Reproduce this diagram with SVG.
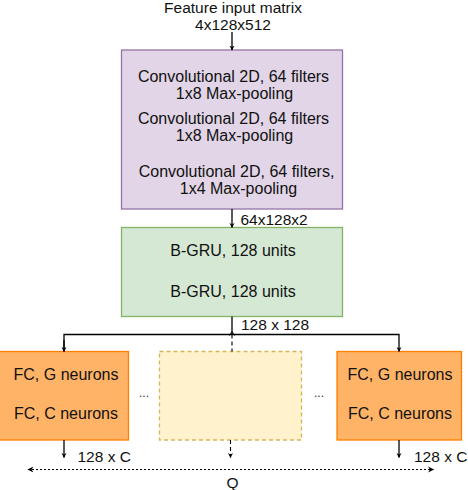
<svg xmlns="http://www.w3.org/2000/svg" width="468" height="490" viewBox="0 0 468 490">
<style>
text{font-family:"Liberation Sans",Arial,sans-serif;font-size:16px;fill:#111;}
.c{text-anchor:middle;}
.sm{font-size:15.5px;}
.ln{fill:none;stroke:#000;stroke-width:1.3;}
.dash{fill:none;stroke:#000;stroke-width:1.1;stroke-dasharray:4 3;}
.dot{fill:none;stroke:#000;stroke-width:1;stroke-dasharray:2 2;}
.orange{fill:#ffb366;stroke:#ff8000;stroke-width:1.3;}
.el{font-size:12px;fill:#333;}
</style>
<defs>
<marker id="ah" viewBox="0 0 10 10" refX="9" refY="5" markerWidth="5" markerHeight="6" orient="auto" markerUnits="userSpaceOnUse">
<path d="M0,0 L10,5 L0,10 L3,5 z" fill="#000"/>
</marker>
<marker id="ahs" viewBox="0 0 10 10" refX="9" refY="5" markerWidth="6" markerHeight="7" orient="auto-start-reverse" markerUnits="userSpaceOnUse">
<path d="M0,0 L10,5 L0,10 L3,5 z" fill="#000"/>
</marker>
</defs>
<g id="input-label">
<text class="c sm" x="233" y="13">Feature input matrix</text>
<text class="c sm" x="233" y="30">4x128x512</text>
</g>
<g id="conv">
<rect x="121.5" y="50" width="221" height="159" fill="#e1d5e7" stroke="#9673a6" stroke-width="1.3"/>
<text class="c" x="233.5" y="81.5">Convolutional 2D, 64 filters</text>
<text class="c" x="234.5" y="99">1x8 Max-pooling</text>
<text class="c" x="233.5" y="123.5">Convolutional 2D, 64 filters</text>
<text class="c" x="234.5" y="141">1x8 Max-pooling</text>
<text class="c" x="236.5" y="176.5">Convolutional 2D, 64 filters,</text>
<text class="c" x="238.5" y="194">1x4 Max-pooling</text>
</g>
<g id="gru">
<rect x="121.5" y="227.5" width="221" height="89" fill="#d5e8d4" stroke="#82b366" stroke-width="1.3"/>
<text class="c" x="233" y="256">B-GRU, 128 units</text>
<text class="c" x="233" y="296.5">B-GRU, 128 units</text>
</g>
<g id="fc-left">
<rect class="orange" x="-1" y="351.5" width="129.5" height="88.5"/>
<text class="c" x="66" y="380">FC, G neurons</text>
<text class="c" x="66" y="419">FC, C neurons</text>
</g>
<g id="fc-middle">
<rect x="159.5" y="351.5" width="142" height="88.5" fill="#fff2cc" stroke="#d6b656" stroke-width="1.3" stroke-dasharray="4 3"/>
</g>
<g id="fc-right">
<rect class="orange" x="337" y="351.5" width="124.5" height="88.5"/>
<text class="c" x="400" y="380">FC, G neurons</text>
<text class="c" x="400" y="419">FC, C neurons</text>
</g>
<g id="ellipses">
<text class="c el" x="144" y="397">...</text>
<text class="c el" x="319" y="397">...</text>
</g>
<g id="connectors">
<line class="ln" x1="232" y1="32" x2="232" y2="50" marker-end="url(#ah)"/>
<line class="ln" x1="232" y1="209" x2="232" y2="227.5" marker-end="url(#ah)"/>
<text class="sm" x="240.5" y="224.5">64x128x2</text>
<polyline class="ln" points="232,316.5 232,334.5"/>
<polyline class="ln" points="64,351.5 64,334.5 399,334.5 399,351.5" marker-end="url(#ah)"/>
<line class="ln" x1="64" y1="340" x2="64" y2="351.5" marker-end="url(#ah)"/>
<path d="M229.5,335.5 L232,331.5 L234.5,335.5" fill="none" stroke="#000" stroke-width="1"/>
<line class="dash" x1="232" y1="334.5" x2="232" y2="351.5"/>
<text class="sm" x="241" y="330">128 x 128</text>
<line class="ln" x1="64" y1="440" x2="64" y2="457.5" stroke-width="1.8" marker-end="url(#ah)"/>
<line class="dash" x1="230.5" y1="440" x2="230.5" y2="457.5" marker-end="url(#ah)"/>
<line class="ln" x1="399" y1="440" x2="399" y2="457.5" marker-end="url(#ah)"/>
<text class="sm" x="77.5" y="462">128 x C</text>
<text class="sm" x="414" y="462">128 x C</text>
<line class="dot" x1="28" y1="469.5" x2="433.5" y2="469.5" marker-start="url(#ahs)" marker-end="url(#ahs)"/>
<text class="c sm" x="232.5" y="487.5">Q</text>
</g>
</svg>
